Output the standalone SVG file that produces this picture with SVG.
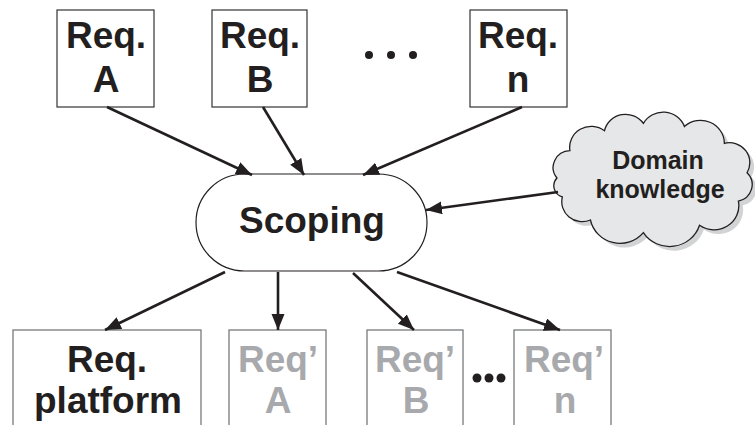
<svg xmlns="http://www.w3.org/2000/svg" width="755" height="425" viewBox="0 0 755 425">
  <style>
    .box { fill: #ffffff; stroke: #333333; stroke-width: 1.2; }
    .box2 { fill: #ffffff; stroke: #6d6e70; stroke-width: 1.2; }
    .t { font-family: "Liberation Sans", Arial, sans-serif; font-weight: bold; font-size: 37px; fill: #231f20; text-anchor: middle; }
    .g { fill: #a7a9ac; }
    .ct { font-family: "Liberation Sans", Arial, sans-serif; font-weight: bold; font-size: 25px; fill: #231f20; text-anchor: middle; }
    .edge { stroke: #231f20; stroke-width: 2.6; fill: none; marker-end: url(#arrow); }
    .dot { fill: #231f20; }
  </style>
  <defs>
    <marker id="arrow" markerUnits="userSpaceOnUse" markerWidth="18" markerHeight="14" refX="16" refY="6.5" orient="auto">
      <path d="M0,0 L16,6.5 L0,13 Z" fill="#231f20"/>
    </marker>
    <path id="cloudShape" d="M564,178
      A16,16 0 0 1 576,152
      A20,20 0 0 1 608,133
      A20,20 0 0 1 644,126
      A21,21 0 0 1 682,129
      A22,22 0 0 1 719,145
      A19,19 0 0 1 740,173
      A16,16 0 0 1 732,200
      A23,23 0 0 1 696,223
      A29,29 0 0 1 644,230
      A28,28 0 0 1 595,218
      A19,19 0 0 1 569,196
      A11,11 0 0 1 564,178 Z"/>
  </defs>

  <!-- input requirements -->
  <g id="reqA">
    <rect class="box" x="57" y="10" width="97" height="97"/>
    <text class="t" x="106" y="48">Req.</text>
    <text class="t" x="106" y="92">A</text>
  </g>
  <g id="reqB">
    <rect class="box" x="212" y="10" width="95" height="97"/>
    <text class="t" x="260" y="48">Req.</text>
    <text class="t" x="260" y="92">B</text>
  </g>
  <g id="dotsTop">
    <circle class="dot" cx="369" cy="55" r="4"/>
    <circle class="dot" cx="391" cy="55" r="4"/>
    <circle class="dot" cx="413" cy="55" r="4"/>
  </g>
  <g id="reqN">
    <rect class="box" x="470" y="10" width="97" height="97"/>
    <text class="t" x="518" y="48">Req.</text>
    <text class="t" x="518" y="92">n</text>
  </g>

  <!-- scoping activity -->
  <g id="scoping">
    <rect x="196" y="174" width="231" height="97" rx="48.5" ry="48.5" fill="#ffffff" stroke="#231f20" stroke-width="1.2"/>
    <text class="t" x="312" y="233">Scoping</text>
  </g>

  <!-- domain knowledge cloud, with a soft drop shadow -->
  <g id="domain">
    <g transform="translate(652,178) scale(1.08,1.05) translate(-652,-178)">
      <use href="#cloudShape" transform="translate(4,4)" fill="#d1d3d4"/>
      <use href="#cloudShape" fill="#e6e7e8" stroke="#231f20" stroke-width="1.2"/>
    </g>
    <text class="ct" x="658" y="169">Domain</text>
    <text class="ct" x="660" y="198">knowledge</text>
  </g>

  <!-- output requirements -->
  <g id="reqPlatform">
    <rect class="box2" x="13" y="330" width="188" height="110"/>
    <text class="t" x="107" y="372">Req.</text>
    <text class="t" x="108" y="413">platform</text>
  </g>
  <g id="reqA2">
    <rect class="box2" x="229" y="330" width="97" height="110"/>
    <text class="t g" x="278" y="372">Req’</text>
    <text class="t g" x="278" y="413">A</text>
  </g>
  <g id="reqB2">
    <rect class="box2" x="367" y="330" width="96" height="110"/>
    <text class="t g" x="415" y="372">Req’</text>
    <text class="t g" x="416" y="413">B</text>
  </g>
  <g id="dotsBottom">
    <circle class="dot" cx="477" cy="378" r="4.5"/>
    <circle class="dot" cx="489" cy="378" r="4.5"/>
    <circle class="dot" cx="501" cy="378" r="4.5"/>
  </g>
  <g id="reqN2">
    <rect class="box2" x="514" y="330" width="97" height="110"/>
    <text class="t g" x="564" y="372">Req’</text>
    <text class="t g" x="565" y="413">n</text>
  </g>

  <!-- connectors -->
  <g id="connectors">
    <line class="edge" x1="107" y1="107" x2="252" y2="175"/>
    <line class="edge" x1="263" y1="107" x2="304" y2="175"/>
    <line class="edge" x1="522" y1="107" x2="363" y2="175"/>
    <line class="edge" x1="558" y1="192" x2="426" y2="210"/>
    <line class="edge" x1="225" y1="272" x2="105" y2="330"/>
    <line class="edge" x1="278" y1="272" x2="278" y2="330"/>
    <line class="edge" x1="353" y1="273" x2="414" y2="330"/>
    <line class="edge" x1="397" y1="272" x2="560" y2="330"/>
  </g>
</svg>
